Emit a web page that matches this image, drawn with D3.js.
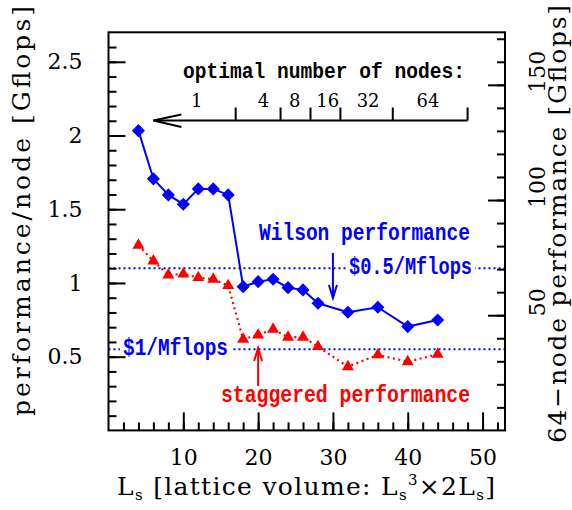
<!DOCTYPE html>
<html><head><meta charset="utf-8">
<script src="https://cdn.jsdelivr.net/npm/d3@7"></script>
<style>body{margin:0;background:#fff}</style>
</head><body><svg id="c" width="572" height="510"></svg>
<script>
// ---- data ----
const ls = [4,6,8,10,12,14,16,18,20,22,24,26,28,32,36,40,44];
const wilson = [2.033,1.706,1.597,1.534,1.638,1.638,1.597,0.975,1.009,1.025,0.968,0.953,0.862,0.801,0.835,0.704,0.749];
const staggered = [1.256,1.149,1.054,1.061,1.036,1.025,0.982,0.618,0.647,0.686,0.632,0.632,0.568,0.432,0.512,0.466,0.516];
const costLevels = [1.1, 0.55];
const costLabels = ["$0.5/Mflops", "$1/Mflops"];
const nodeBounds = [17, 23, 27, 31, 38, 48];
const nodeLabels = ["1", "4", "8", "16", "32", "64"];
const nodeLabelPos = [11.8, 20.7, 24.9, 29.3, 34.7, 42.7];
const nodeArrowTip = 6;
const xTicks = [10, 20, 30, 40, 50];
const yTicks = [0.5, 1, 1.5, 2, 2.5];
const y2Ticks = [50, 100, 150];
const nodesFactor = 64;

// ---- layout ----
const svg = d3.select("#c");
const L = 108.5, R = 505, T = 32.3, B = 430.4;
const x = d3.scaleLinear([0, 53], [L, R]);
const y = d3.scaleLinear([0, 2.7], [B, T]);
const y2 = d3.scaleLinear([0, 2.7 * nodesFactor], [B, T]);
const serif = "'DejaVu Serif', serif";
const mono = "'Liberation Mono', 'DejaVu Sans Mono', monospace";
const BLUE = "#0000ff", RED = "#ff0000";

// reference lines
const gl = svg.append("g");
costLevels.forEach(v => {
  gl.append("line").attr("x1", L).attr("x2", R).attr("y1", y(v)).attr("y2", y(v))
    .attr("stroke", BLUE).attr("stroke-width", 2).attr("stroke-dasharray", "2,3");
});

// annotation texts helper
function label(txt, px, py, len, color, size, bg) {
  const t = svg.append("text").attr("x", px).attr("y", py).text(txt)
    .attr("font-family", mono).attr("font-weight", "bold").attr("font-size", size)
    .attr("fill", color).attr("textLength", len).attr("lengthAdjust", "spacingAndGlyphs");
  if (bg) {
    const bb = t.node().getBBox();
    svg.insert("rect", "text").attr("x", bb.x - 3).attr("y", bb.y).attr("width", bb.width + 6)
      .attr("height", bb.height).attr("fill", "#fff");
  }
  return t;
}
label(costLabels[0], 349, 274, 123, BLUE, 23, true);
label(costLabels[1], 123, 355, 105, BLUE, 23, true);
label("Wilson performance", 259, 240, 211, BLUE, 23, false);
label("staggered performance", 221, 402, 249, RED, 23, false);
label("optimal number of nodes:", 183, 78, 282, "#000", 22, false);

// arrows pointing to curves
function vArrow(xv, yFrom, yTo, color) {
  const g = svg.append("g").attr("stroke", color).attr("stroke-width", 2).attr("fill", "none");
  const px = x(xv), dir = Math.sign(yTo - yFrom);
  g.append("line").attr("x1", px).attr("x2", px).attr("y1", yFrom).attr("y2", yTo);
  g.append("path").attr("d", `M${px-4},${yTo - dir*13}L${px},${yTo}L${px+4},${yTo - dir*13}`);
}
vArrow(30, 253, 298, BLUE);
vArrow(20, 386, 348, RED);

// optimal nodes arrow
const ay = 120.5;
const ga = svg.append("g").attr("stroke", "#000").attr("stroke-width", 2).attr("fill", "none");
ga.append("line").attr("x1", x(nodeBounds[nodeBounds.length-1])).attr("x2", x(nodeArrowTip)).attr("y1", ay).attr("y2", ay);
ga.append("path").attr("d", `M${x(nodeArrowTip)+28},${ay-6}L${x(nodeArrowTip)},${ay}L${x(nodeArrowTip)+28},${ay+6.5}`);
nodeBounds.forEach(b => ga.append("line").attr("x1", x(b)).attr("x2", x(b)).attr("y1", ay).attr("y2", ay - 13));
nodeLabels.forEach((n, i) => svg.append("text").attr("x", x(nodeLabelPos[i])).attr("y", 106.5)
  .attr("text-anchor", "middle").attr("font-family", serif).attr("font-size", 18).text(n));

// data lines
const line = d3.line().x((d, i) => x(ls[i])).y(d => y(d));
svg.append("path").datum(staggered).attr("d", line).attr("fill", "none").attr("stroke", RED)
  .attr("stroke-width", 2.2).attr("stroke-dasharray", "2,3.5");
svg.append("path").datum(wilson).attr("d", line).attr("fill", "none").attr("stroke", BLUE).attr("stroke-width", 2);

svg.append("g").selectAll("path").data(staggered).join("path")
  .attr("d", d3.symbol(d3.symbolTriangle, 62))
  .attr("transform", (d, i) => `translate(${x(ls[i])},${y(d)})`).attr("fill", RED);
svg.append("g").selectAll("path").data(wilson).join("path")
  .attr("d", d3.symbol(d3.symbolSquare, 86))
  .attr("transform", (d, i) => `translate(${x(ls[i])},${y(d)}) rotate(45)`).attr("fill", BLUE);

// axes
function styleAxis(g) { g.select(".domain").remove(); g.selectAll("line").attr("stroke", "#000").attr("stroke-width", 2); }
// left
svg.append("g").attr("transform", `translate(${L},0)`)
  .call(d3.axisLeft(y).tickValues(d3.range(1, 27).map(v => v / 10)).tickSize(-8).tickFormat("")).call(styleAxis);
svg.append("g").attr("transform", `translate(${L},0)`)
  .call(d3.axisLeft(y).tickValues(yTicks).tickSize(-17).tickPadding(26).tickFormat(d3.format("")))
  .call(styleAxis)
  .call(g => g.selectAll("text").attr("font-family", serif).attr("font-size", 22).attr("fill", "#000"));
// right
svg.append("g").attr("transform", `translate(${R},0)`)
  .call(d3.axisRight(y2).tickValues(d3.range(10, 173, 10)).tickSize(-8).tickFormat("")).call(styleAxis);
svg.append("g").attr("transform", `translate(${R},0)`)
  .call(d3.axisRight(y2).tickValues(y2Ticks).tickSize(-17).tickFormat("")).call(styleAxis);
y2Ticks.forEach(v => svg.append("text").attr("transform", `translate(545,${y2(v) - 13}) rotate(-90)`)
  .attr("text-anchor", "middle").attr("font-family", serif).attr("font-size", 22).text(v));
// bottom
svg.append("g").attr("transform", `translate(0,${B})`)
  .call(d3.axisBottom(x).tickValues(d3.range(2, 53, 2)).tickSize(-8).tickFormat("")).call(styleAxis);
svg.append("g").attr("transform", `translate(0,${B})`)
  .call(d3.axisBottom(x).tickValues(xTicks).tickSize(-18).tickPadding(19))
  .call(styleAxis)
  .call(g => g.selectAll("text").attr("font-family", serif).attr("font-size", 22).attr("fill", "#000"));

// frame
svg.append("rect").attr("x", L).attr("y", T).attr("width", R - L).attr("height", B - T)
  .attr("fill", "none").attr("stroke", "#000").attr("stroke-width", 2);

// axis titles
svg.append("text").attr("transform", "translate(30,211) rotate(-90)").attr("text-anchor", "middle")
  .attr("font-family", serif).attr("font-size", 25).attr("textLength", 410).attr("lengthAdjust", "spacing")
  .text("performance/node [Gflops]");
svg.append("text").attr("transform", "translate(566,224) rotate(-90)").attr("text-anchor", "middle")
  .attr("font-family", serif).attr("font-size", 25).attr("textLength", 438).attr("lengthAdjust", "spacing")
  .text("64\u2212node performance [Gflops]");
const xt = svg.append("text").attr("x", 306).attr("y", 495).attr("text-anchor", "middle")
  .attr("font-family", serif).attr("font-size", 25).attr("textLength", 378).attr("lengthAdjust", "spacing");
xt.append("tspan").text("L");
xt.append("tspan").attr("font-size", 15).attr("dy", 5).text("s");
xt.append("tspan").attr("dy", -5).text(" [lattice volume: L");
xt.append("tspan").attr("font-size", 15).attr("dy", 5).text("s");
xt.append("tspan").attr("font-size", 15).attr("dy", -15).text("3");
xt.append("tspan").attr("dy", 10).text("\u00d72L");
xt.append("tspan").attr("font-size", 15).attr("dy", 5).text("s");
xt.append("tspan").attr("dy", -5).text("]");
</script></body></html>
